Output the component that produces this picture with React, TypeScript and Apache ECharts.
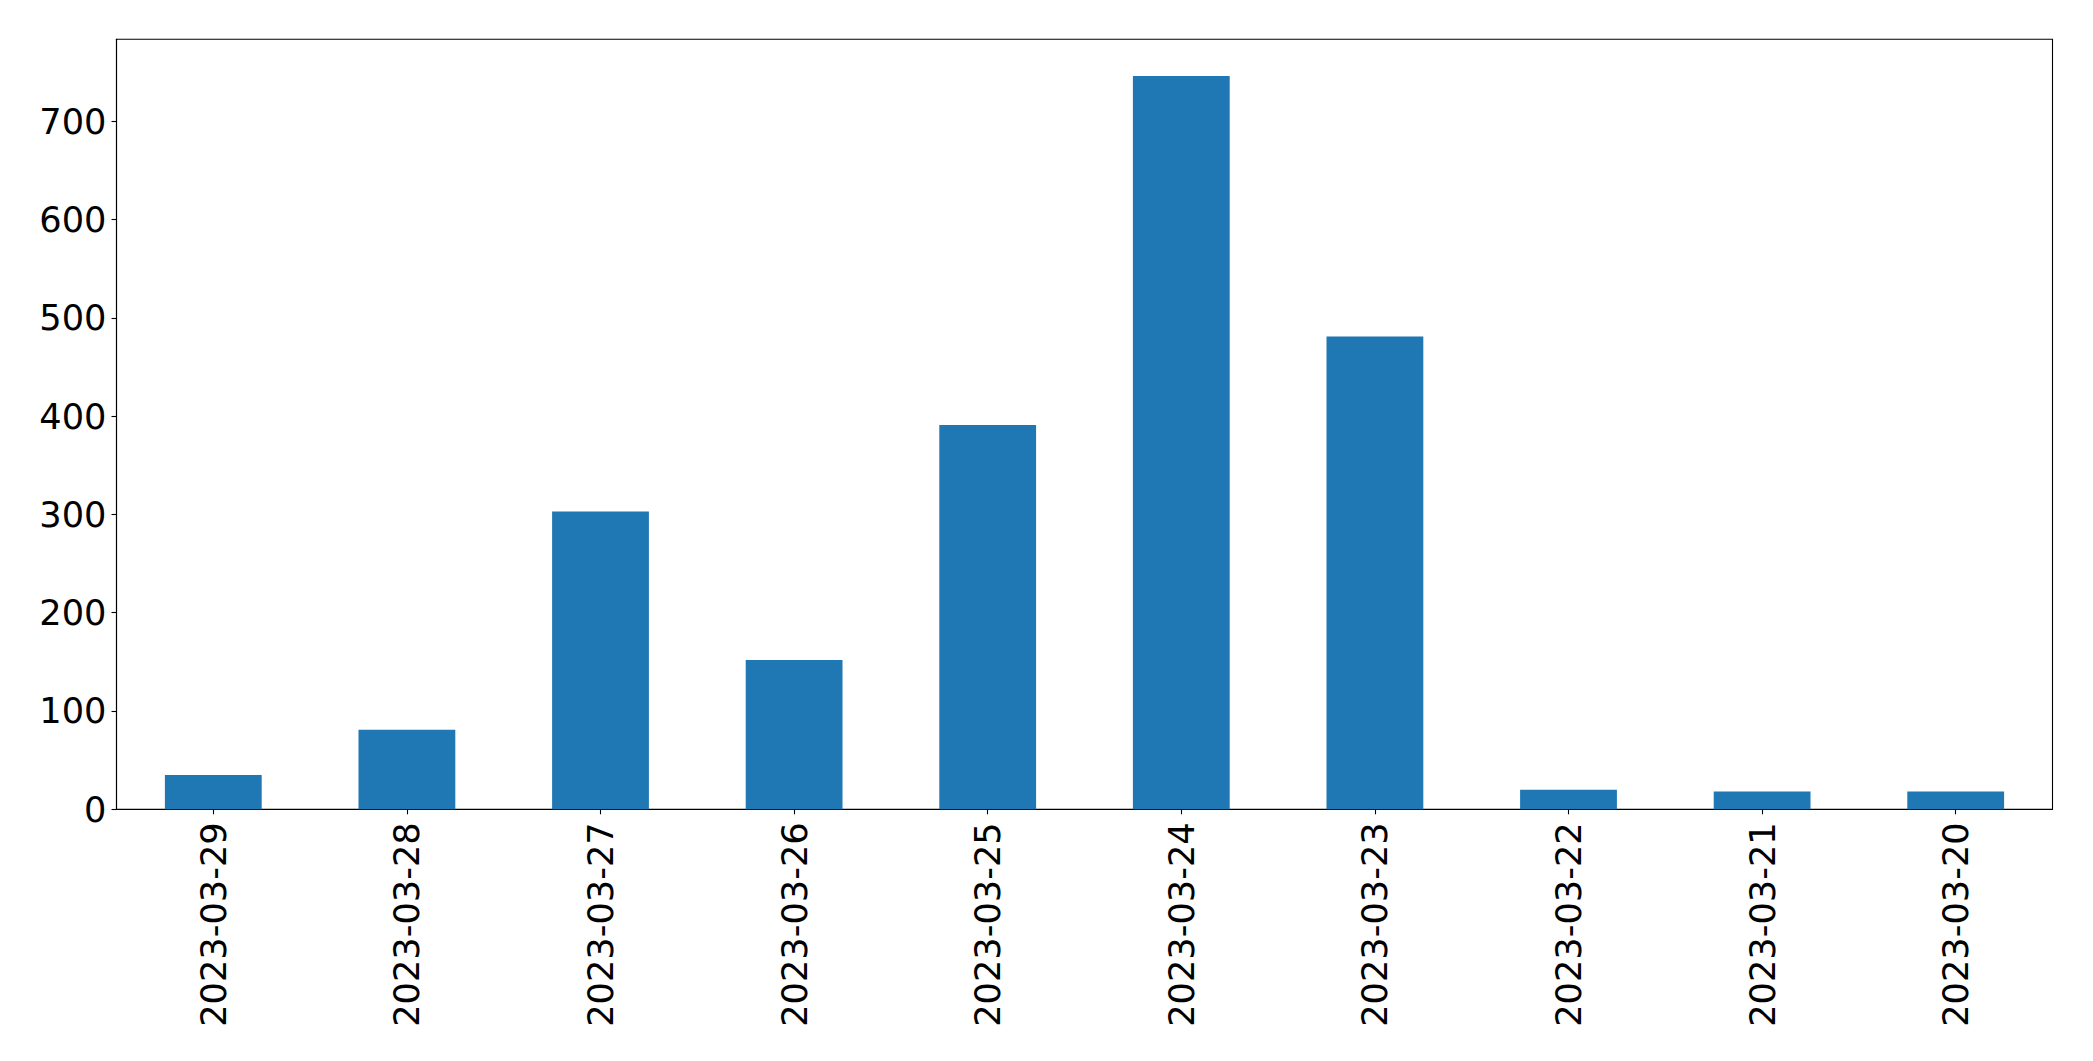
import React, { useEffect, useRef } from "react";
import * as echarts from "echarts";

const categories = [
  "2023-03-29",
  "2023-03-28",
  "2023-03-27",
  "2023-03-26",
  "2023-03-25",
  "2023-03-24",
  "2023-03-23",
  "2023-03-22",
  "2023-03-21",
  "2023-03-20",
];
const counts = [35, 81, 303, 152, 391, 746, 481, 20, 18, 18];
const yTicks = [0, 100, 200, 300, 400, 500, 600, 700];
const yMax = 783.3;

export default function App() {
  const ref = useRef<HTMLDivElement>(null);
  useEffect(() => {
    document.body.style.margin = "0";
    const chart = echarts.init(ref.current!, null, { renderer: "svg" });
    const font = "DejaVu Sans";
    chart.setOption({
      animation: false,
      backgroundColor: "#ffffff",
      grid: {
        left: 116.5,
        right: 40.5,
        top: 39.3,
        bottom: 251.7,
        show: true,
        borderColor: "#000000",
        borderWidth: 1.1,
        backgroundColor: "transparent",
      },
      xAxis: {
        type: "category",
        data: categories,
        boundaryGap: true,
        axisLine: { show: true, lineStyle: { color: "#000000", width: 1.1 } },
        axisTick: {
          show: true,
          alignWithLabel: true,
          length: 5,
          lineStyle: { color: "#000000", width: 1.1 },
        },
        axisLabel: {
          rotate: 90,
          margin: 13,
          fontSize: 35.2,
          fontFamily: font,
          color: "#000000",
          interval: 0,
        },
        splitLine: { show: false },
      },
      yAxis: {
        type: "value",
        min: 0,
        max: yMax,
        axisLine: { show: true, lineStyle: { color: "#000000", width: 1.1 } },
        axisTick: {
          show: true,
          length: 5,
          customValues: yTicks,
          lineStyle: { color: "#000000", width: 1.1 },
        },
        axisLabel: {
          margin: 10,
          fontSize: 35.2,
          fontFamily: font,
          color: "#000000",
          customValues: yTicks,
        },
        splitLine: { show: false },
      },
      series: [
        {
          type: "bar",
          data: counts,
          barWidth: "50%",
          itemStyle: { color: "#1f77b4" },
        },
      ],
    });
    return () => chart.dispose();
  }, []);
  return (
    <div
      ref={ref}
      style={{ position: "absolute", left: 0, top: 0, width: "2093px", height: "1061px" }}
    />
  );
}
